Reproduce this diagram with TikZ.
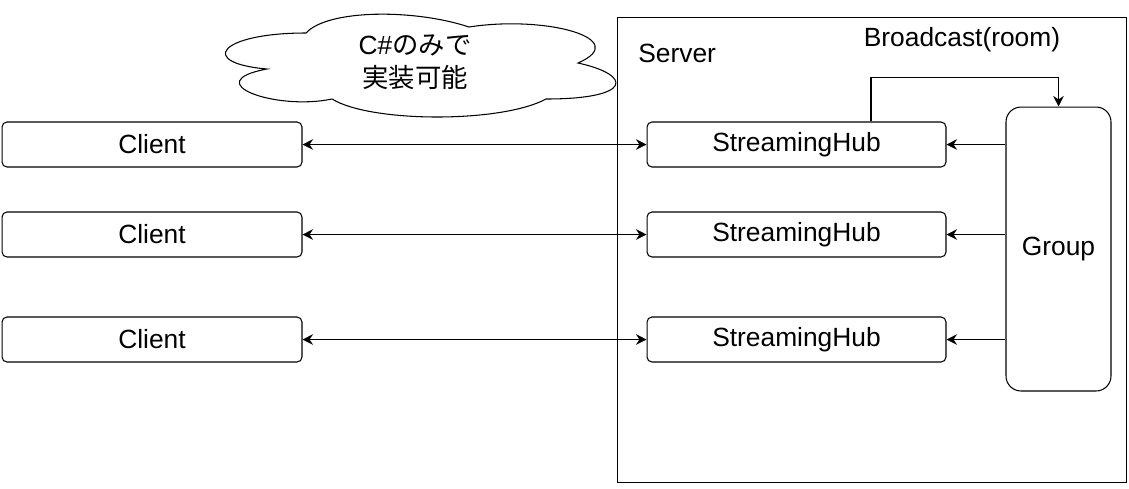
\documentclass[tikz,border=0pt]{standalone}
\usepackage{fontspec}
\setmainfont{Liberation Sans}
\newfontfamily\cjk{Noto Sans CJK JP}
\usetikzlibrary{arrows.meta}

\begin{document}
\begin{tikzpicture}[x=0.02cm, y=-0.02cm]

% definitions
\tikzstyle{client} = [rectangle, rounded corners=2.8pt, minimum width=6cm, minimum height=0.9cm, inner sep=0pt, text centered, draw=black, line width=0.6pt, font=\fontsize{15}{18}\selectfont]

\tikzstyle{hub} = [rectangle, rounded corners=2.8pt, minimum width=5.98cm, minimum height=0.9cm, inner sep=0pt, text centered, draw=black, line width=0.6pt, font=\fontsize{15}{18}\selectfont]

\tikzstyle{group} = [rectangle, rounded corners=8.5pt, minimum width=2.1cm, minimum height=5.68cm, inner sep=0pt, text centered, draw=black, line width=0.6pt, font=\fontsize{15}{18}\selectfont]

\tikzstyle{server} = [rectangle, minimum width=10.2cm, minimum height=9.32cm, inner sep=0pt, draw=black, line width=0.6pt]

\tikzstyle{label} = [inner sep=0pt, font=\fontsize{15}{18}\selectfont]

\tikzstyle{arrow} = [-{Stealth[length=6pt, width=6pt, inset=2pt]}, line width=0.6pt]

\tikzstyle{biarrow} = [{Stealth[length=6pt, width=6pt, inset=2pt]}-{Stealth[length=6pt, width=6pt, inset=2pt]}, line width=0.6pt]

\useasboundingbox (0,0) rectangle (1129,488);

% the cloud
\draw [line width=0.6pt] (306,33) .. controls (219,33) and (197,63) .. (267,69)
  .. controls (197,82) and (275,111) .. (332,99)
  .. controls (371,123) and (502,123) .. (546,99)
  .. controls (633,99) and (633,75) .. (578,63)
  .. controls (633,39) and (546,15) .. (469,27)
  .. controls (415,9) and (328,9) .. (306,33) -- cycle;
\node (note) [label, align=center] at (415,62) {C\#{\cjk のみで}\\[0.5pt]{\cjk 実装可能}};

% the graph
\node (server) [server] at (872,250) {};
\node (servername) [label, anchor=west] at (638,53) {Server};
\node (broadcast) [label] at (962,40) {Broadcast(room)};

\node (client1) [client] at (152,144.5) {Client};
\node (client2) [client] at (152,234.5) {Client};
\node (client3) [client] at (152,339.5) {Client};

\node (hub1) [hub] at (796.5,144.5) {StreamingHub};
\node (hub2) [hub] at (796.5,234.5) {StreamingHub};
\node (hub3) [hub] at (796.5,339.5) {StreamingHub};

\node (group) [group] at (1058.5,249) {Group};

\draw [biarrow] (client1) -- (hub1);
\draw [biarrow] (client2) -- (hub2);
\draw [biarrow] (client3) -- (hub3);

\draw [arrow] (hub1.east -| group.west) -- (hub1.east);
\draw [arrow] (hub2.east -| group.west) -- (hub2.east);
\draw [arrow] (hub3.east -| group.west) -- (hub3.east);

\draw [arrow] ([xshift=1.49cm]hub1.north) |- ([yshift=0.58cm]group.north) -- (group.north);

\end{tikzpicture}
\end{document}
